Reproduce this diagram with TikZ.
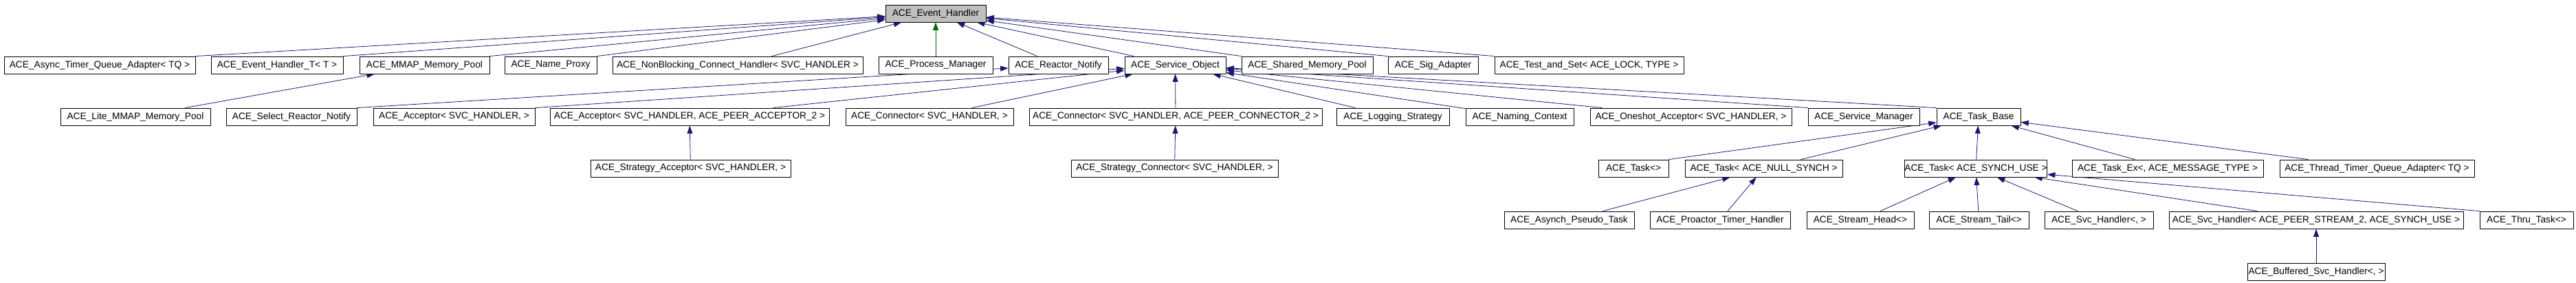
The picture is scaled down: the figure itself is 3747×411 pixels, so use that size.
\documentclass[tikz,border=0pt]{standalone}
\usepackage{fontspec}
\setmainfont{Liberation Sans}
\usetikzlibrary{arrows.meta,backgrounds}
\definecolor{rzrzxq}{rgb}{0.09803921568627451,0.09803921568627451,0.4392156862745098}
\definecolor{qqwuqq}{rgb}{0.,0.39215686274509803,0.}
\definecolor{bfbfbf}{rgb}{0.7490196078431373,0.7490196078431373,0.7490196078431373}

\begin{document}
\begin{tikzpicture}[line cap=round,line join=round,>={Triangle[length=6.5pt,width=4.5pt]},x=0.02cm,y=-0.02cm,
    cls/.style={draw=black,line width=0.5pt,fill=white,inner sep=0pt,minimum height=0.5cm,minimum width=#1*0.02cm,font=\fontsize{7.8}{9}\selectfont},
    pub/.style={->,line width=0.45pt,color=rzrzxq},
    prot/.style={->,line width=0.45pt,color=qqwuqq}]
    \useasboundingbox (0,0) rectangle (3747,411);
    % root
    \node[cls=146,fill=bfbfbf] (evh) at (1361,19.5) {ACE\_Event\_Handler};
    % first row
    \node[cls=278] (async) at (145,94.5) {ACE\_Async\_Timer\_Queue\_Adapter< TQ >};
    \node[cls=192] (evht) at (403,94.5) {ACE\_Event\_Handler\_T< T >};
    \node[cls=189] (mmap) at (617.5,94.5) {ACE\_MMAP\_Memory\_Pool};
    \node[cls=134] (nameproxy) at (801,94.5) {ACE\_Name\_Proxy};
    \node[cls=364] (nonblock) at (1073,94.5) {ACE\_NonBlocking\_Connect\_Handler< SVC\_HANDLER >};
    \node[cls=166] (procmgr) at (1361,94.5) {ACE\_Process\_Manager};
    \node[cls=145] (reactnotify) at (1539.5,94.5) {ACE\_Reactor\_Notify};
    \node[cls=147] (svcobj) at (1709.5,94.5) {ACE\_Service\_Object};
    \node[cls=191] (shmpool) at (1901.5,94.5) {ACE\_Shared\_Memory\_Pool};
    \node[cls=131] (sigadapt) at (2084.5,94.5) {ACE\_Sig\_Adapter};
    \node[cls=275] (testset) at (2311.5,94.5) {ACE\_Test\_and\_Set< ACE\_LOCK, TYPE >};
    % second row
    \node[cls=218] (litemmap) at (197,169.5) {ACE\_Lite\_MMAP\_Memory\_Pool};
    \node[cls=190] (selnotify) at (424,169.5) {ACE\_Select\_Reactor\_Notify};
    \node[cls=235] (accone) at (660.5,169.5) {ACE\_Acceptor< SVC\_HANDLER, >};
    \node[cls=406] (acctwo) at (1003,169.5) {ACE\_Acceptor< SVC\_HANDLER, ACE\_PEER\_ACCEPTOR\_2 >};
    \node[cls=244] (conone) at (1352,169.5) {ACE\_Connector< SVC\_HANDLER, >};
    \node[cls=426] (contwo) at (1710,169.5) {ACE\_Connector< SVC\_HANDLER, ACE\_PEER\_CONNECTOR\_2 >};
    \node[cls=164] (logstrat) at (2026,169.5) {ACE\_Logging\_Strategy};
    \node[cls=157] (namectx) at (2210.5,169.5) {ACE\_Naming\_Context};
    \node[cls=293] (oneshot) at (2459.5,169.5) {ACE\_Oneshot\_Acceptor< SVC\_HANDLER, >};
    \node[cls=162] (svcmgr) at (2711,169.5) {ACE\_Service\_Manager};
    \node[cls=122] (taskbase) at (2878,169.5) {ACE\_Task\_Base};
    % third row
    \node[cls=291] (stratacc) at (1004.5,244.5) {ACE\_Strategy\_Acceptor< SVC\_HANDLER, >};
    \node[cls=301] (stratcon) at (1708.5,244.5) {ACE\_Strategy\_Connector< SVC\_HANDLER, >};
    \node[cls=102] (taskany) at (2376,244.5) {ACE\_Task<>};
    \node[cls=229] (tasknull) at (2565.5,244.5) {ACE\_Task< ACE\_NULL\_SYNCH >};
    \node[cls=207] (tasksynch) at (2874,244.5) {ACE\_Task< ACE\_SYNCH\_USE >};
    \node[cls=278] (taskex) at (3153,244.5) {ACE\_Task\_Ex<, ACE\_MESSAGE\_TYPE >};
    \node[cls=283] (thrtimer) at (3457.5,244.5) {ACE\_Thread\_Timer\_Queue\_Adapter< TQ >};
    % fourth row
    \node[cls=189] (asynchpt) at (2282.5,319.5) {ACE\_Asynch\_Pseudo\_Task};
    \node[cls=204] (proactor) at (2502,319.5) {ACE\_Proactor\_Timer\_Handler};
    \node[cls=156] (streamhead) at (2706,319.5) {ACE\_Stream\_Head<>};
    \node[cls=145] (streamtail) at (2878.5,319.5) {ACE\_Stream\_Tail<>};
    \node[cls=158] (svchone) at (3053,319.5) {ACE\_Svc\_Handler<, >};
    \node[cls=428] (svchtwo) at (3369,319.5) {ACE\_Svc\_Handler< ACE\_PEER\_STREAM\_2, ACE\_SYNCH\_USE >};
    \node[cls=136] (thrutask) at (3675,319.5) {ACE\_Thru\_Task<>};
    % fifth row
    \node[cls=200] (buffered) at (3369,394.5) {ACE\_Buffered\_Svc\_Handler<, >};
    % inheritance, kept behind the boxes
    \begin{pgfonlayer}{background}
    \foreach \c in {async,evht,mmap,nameproxy}
        \draw[pub] (\c.north east) -- (evh);
    \foreach \c in {shmpool,sigadapt,testset}
        \draw[pub] (\c.north west) -- (evh);
    \foreach \c in {nonblock,reactnotify,svcobj}
        \draw[pub] (\c) -- (evh);
    \draw[prot] (procmgr) -- (evh);
    \draw[pub] (litemmap) -- (mmap);
    \draw[pub] (selnotify.north east) -- (reactnotify);
    \draw[pub] (accone.north east) -- (svcobj);
    \foreach \c in {acctwo,conone,contwo,logstrat,namectx,oneshot}
        \draw[pub] (\c) -- (svcobj);
    \draw[pub] (svcmgr.north west) -- (svcobj);
    \draw[pub] (taskbase.north west) -- (svcobj);
    \draw[pub] (stratacc) -- (acctwo);
    \draw[pub] (stratcon) -- (contwo);
    \draw[pub] (taskany.north east) -- (taskbase);
    \foreach \c in {tasknull,tasksynch,taskex,thrtimer}
        \draw[pub] (\c) -- (taskbase);
    \draw[pub] (asynchpt) -- (tasknull);
    \draw[pub] (proactor) -- (tasknull);
    \foreach \c in {streamhead,streamtail,svchone,svchtwo}
        \draw[pub] (\c) -- (tasksynch);
    \draw[pub] (thrutask.north west) -- (tasksynch);
    \draw[pub] (buffered) -- (svchtwo);
    \end{pgfonlayer}
\end{tikzpicture}
\end{document}
